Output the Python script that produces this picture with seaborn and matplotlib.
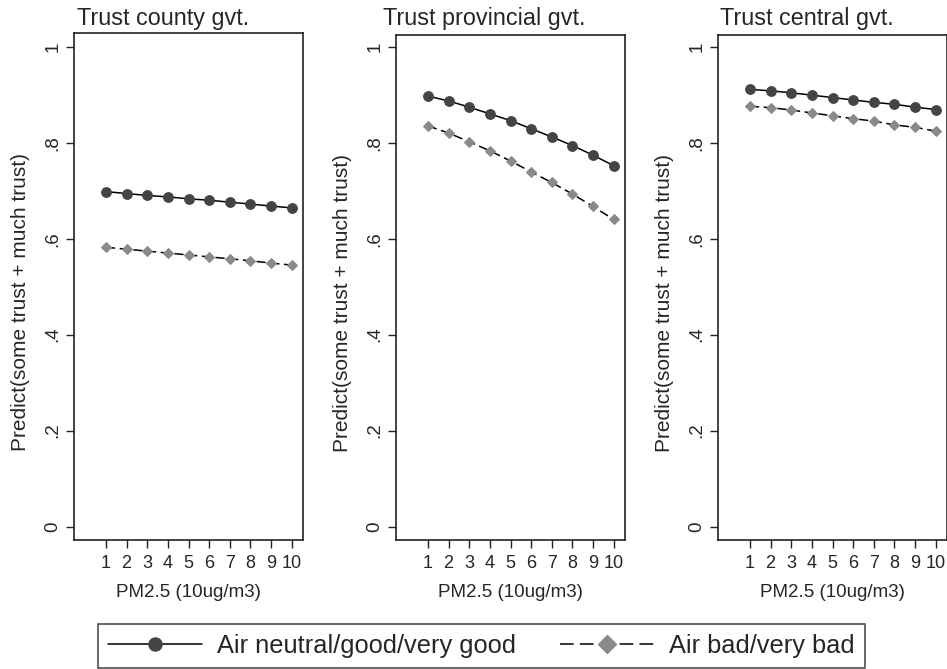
import numpy as np
import pandas as pd
import matplotlib
matplotlib.use("Agg")
import matplotlib.pyplot as plt
import seaborn as sns
from matplotlib.lines import Line2D

pm25 = list(range(1, 11))
panels = ["Trust county gvt.", "Trust provincial gvt.", "Trust central gvt."]

county_good = [0.698, 0.694, 0.690, 0.687, 0.683, 0.680, 0.676, 0.672, 0.668, 0.664]
county_bad = [0.582, 0.578, 0.574, 0.570, 0.566, 0.562, 0.558, 0.554, 0.549, 0.545]
prov_good = [0.897, 0.887, 0.874, 0.860, 0.846, 0.829, 0.812, 0.794, 0.774, 0.752]
prov_bad = [0.835, 0.820, 0.802, 0.783, 0.762, 0.739, 0.717, 0.693, 0.667, 0.640]
central_good = [0.911, 0.908, 0.904, 0.899, 0.894, 0.889, 0.884, 0.880, 0.874, 0.869]
central_bad = [0.876, 0.873, 0.868, 0.862, 0.856, 0.850, 0.845, 0.837, 0.832, 0.824]

groups = ["Air neutral/good/very good", "Air bad/very bad"]
yticks = [0, 0.2, 0.4, 0.6, 0.8, 1]
ytick_labels = ["0", ".2", ".4", ".6", ".8", "1"]

rows = []
for panel, good, bad in zip(panels, [county_good, prov_good, central_good],
                            [county_bad, prov_bad, central_bad]):
    for x, g, b in zip(pm25, good, bad):
        rows.append((panel, groups[0], x, g))
        rows.append((panel, groups[1], x, b))
df = pd.DataFrame(rows, columns=["panel", "group", "pm25", "pred"])

sns.set_theme(style="white")
plt.rcParams["font.family"] = ["Liberation Sans", "DejaVu Sans"]

fig = plt.figure(figsize=(9.47, 6.69), dpi=100)
W, H = 947, 669
lefts = [74, 396, 718]
tops = [33, 35, 35]
title_off = [0.013, -0.057, 0.009]

dark = "#444444"
light = "#8a8a8a"
edge = "#222222"
good_style = dict(color="black", marker="o", markersize=7, markerfacecolor=dark,
                  markeredgecolor=dark, linewidth=1.1)
bad_style = dict(color="black", marker="D", markersize=5.6, markerfacecolor=light,
                 markeredgecolor=light, linewidth=1.1, linestyle=(0, (6, 3)))

for i, panel in enumerate(panels):
    ax = fig.add_axes([lefts[i] / W, (H - 540) / H, 229 / W, (540 - tops[i]) / H])
    sub = df[df.panel == panel]
    sns.lineplot(data=sub[sub.group == groups[0]], x="pm25", y="pred", ax=ax,
                 legend=False, **good_style)
    sns.lineplot(data=sub[sub.group == groups[1]], x="pm25", y="pred", ax=ax,
                 legend=False, **bad_style)
    ax.set_xlim(-0.55, 10.55)
    ax.set_ylim(-0.028, 1 + (46.7 - tops[i]) / 480)
    ax.set_xticks(pm25)
    ax.set_xticklabels([str(v) for v in pm25], fontsize=13)
    ax.set_yticks(yticks)
    ax.set_yticklabels(ytick_labels, fontsize=13.5, rotation=90, va="center")
    ax.tick_params(axis="x", direction="out", length=6, width=1, color=edge,
                   bottom=True, pad=5)
    ax.tick_params(axis="y", direction="out", length=6, width=1, color=edge,
                   left=True, pad=3)
    for s in ax.spines.values():
        s.set_color(edge)
        s.set_linewidth(1.2)
    ax.set_xlabel("PM2.5 (10ug/m3)", fontsize=13.5)
    ax.set_ylabel("Predict(some trust + much trust)", fontsize=15)
    ax.yaxis.set_label_coords(-0.19, 0.47)
    ax.xaxis.set_label_coords(0.5, -0.087)
    ax.text(title_off[i], 1 + (tops[i] - 25) / 507, panel, transform=ax.transAxes,
            fontsize=16.8, va="baseline", ha="left")

leg_good = dict(good_style, markersize=9.4)
leg_bad = dict(bad_style, markersize=9, linestyle=(0, (9, 4)))
handles = [Line2D([], [], **leg_good), Line2D([], [], **leg_bad)]
leg = fig.legend(handles, groups, loc="lower left", ncol=2, fontsize=18.3,
                 bbox_to_anchor=(98 / W, 1 / H),
                 frameon=True, fancybox=False, handlelength=3.7,
                 handletextpad=0.6, columnspacing=1.7, borderpad=0.4,
                 borderaxespad=0)
leg.get_frame().set_edgecolor(edge)
leg.get_frame().set_linewidth(1.2)

fig.savefig("out.png", dpi=100)
